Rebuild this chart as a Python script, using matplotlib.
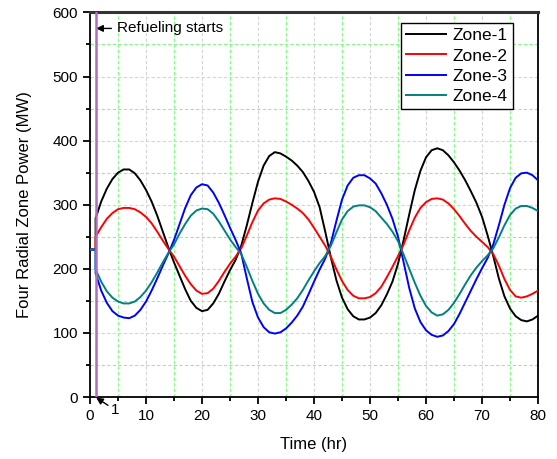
import numpy as np
import matplotlib
matplotlib.use('Agg')
import matplotlib.pyplot as plt
import matplotlib.ticker as ticker

# ─── DATA ────────────────────────────────────────────────────────────────────
# steady power before refueling (0-1 hr), then hourly values from t = 1 to 80 hr
steady_mw = 230
refuel_hr = 1

hours = list(range(1, 81))

zone1 = [279, 305, 325, 340, 350, 355, 355, 349, 338, 323,
         305, 283, 258, 233, 210, 189, 168, 150, 139, 134,
         136, 146, 161, 180, 198, 214, 236, 268, 303, 336,
         361, 376, 382, 380, 375, 369, 361, 351, 337, 320,
         296, 258, 218, 182, 155, 137, 126, 121, 121, 124,
         131, 143, 160, 180, 208, 245, 285, 323, 353, 374,
         385, 388, 385, 377, 366, 353, 338, 321, 303, 281,
         252, 220, 185, 157, 138, 126, 120, 118, 121, 127]

zone2 = [250, 265, 278, 287, 293, 295, 295, 293, 288, 281,
         271, 258, 244, 231, 219, 204, 189, 176, 166, 161,
         162, 169, 181, 195, 208, 219, 232, 252, 273, 291,
         302, 308, 310, 309, 305, 300, 294, 287, 277, 264,
         250, 236, 219, 199, 181, 167, 158, 154, 154, 156,
         162, 172, 187, 203, 220, 238, 260, 280, 295, 304,
         309, 310, 308, 302, 293, 282, 270, 259, 250, 242,
         234, 223, 205, 184, 167, 157, 155, 157, 161, 166]

zone3 = [193, 166, 147, 134, 127, 124, 123, 127, 136, 149,
         166, 185, 205, 224, 245, 270, 295, 315, 327, 332,
         330, 319, 303, 284, 264, 245, 224, 185, 148, 124,
         109, 101, 99, 101, 107, 116, 127, 141, 160, 180,
         199, 216, 240, 275, 308, 330, 342, 346, 346, 341,
         333, 318, 300, 278, 250, 210, 170, 138, 117, 104,
         97, 94, 96, 103, 114, 130, 148, 166, 184, 201,
         217, 238, 268, 300, 326, 342, 349, 350, 346, 338]

zone4 = [199, 180, 165, 155, 149, 146, 146, 149, 156, 166,
         179, 194, 210, 225, 238, 255, 270, 283, 291, 294,
         293, 286, 274, 260, 246, 234, 223, 203, 181, 161,
         146, 136, 131, 131, 136, 144, 154, 167, 182, 196,
         209, 220, 236, 257, 277, 290, 297, 299, 299, 296,
         290, 280, 270, 258, 243, 222, 200, 178, 158, 142,
         132, 127, 129, 136, 147, 161, 176, 190, 202, 212,
         221, 232, 249, 268, 284, 294, 298, 298, 295, 290]

zone_names = ['Zone-1', 'Zone-2', 'Zone-3', 'Zone-4']
zone_data = [zone1, zone2, zone3, zone4]
zone_colors = ['black', '#ff0000', '#0000ff', '#008080']

# ─── PLOT SETTINGS ───────────────────────────────────────────────────────────
plt.rcParams.update({
    'font.family': 'Liberation Sans',
    'font.size': 11,
    'axes.linewidth': 1.3,
})

fig, ax = plt.subplots(figsize=(5.57, 4.59), dpi=100)
fig.subplots_adjust(left=0.1616, right=0.966, bottom=0.135, top=0.973)

# grid: light grey on major ticks, light green on minor ticks
ax.set_axisbelow(True)
ax.grid(True, which='major', color='#d4d4d4', lw=0.8, ls=(0, (3, 2)))
ax.grid(True, which='minor', color='#7dff7d', lw=0.8, ls=(0, (3, 2)))

for name, vals, col in zip(zone_names, zone_data, zone_colors):
    t = [0, refuel_hr] + hours
    p = [steady_mw, steady_mw] + vals
    ax.plot(t, p, color=col, lw=1.4, label=name, zorder=3)

ax.axvline(refuel_hr, color='#b36cc4', lw=1.8, zorder=4)

ax.annotate('Refueling starts', xy=(refuel_hr + 0.1, 575), xytext=(4.8, 575),
            ha='left', va='center', fontsize=11,
            arrowprops=dict(arrowstyle='-|>', color='black', lw=1.0,
                            mutation_scale=10, shrinkA=2, shrinkB=0))
ax.annotate('1', xy=(refuel_hr + 0.1, -1), xytext=(3.7, -20),
            ha='left', va='center', fontsize=11, annotation_clip=False,
            arrowprops=dict(arrowstyle='-|>', color='black', lw=1.0,
                            mutation_scale=10, shrinkA=0, shrinkB=0))

# ─── AXES ────────────────────────────────────────────────────────────────────
ax.set_xlim(0, 80)
ax.set_ylim(0, 600)
ax.xaxis.set_major_locator(ticker.MultipleLocator(10))
ax.xaxis.set_minor_locator(ticker.MultipleLocator(5))
ax.yaxis.set_major_locator(ticker.MultipleLocator(100))
ax.yaxis.set_minor_locator(ticker.MultipleLocator(50))
ax.tick_params(which='major', direction='out', length=5, width=1.3, labelsize=11)
ax.tick_params(which='minor', direction='out', length=3, width=1.3)
ax.spines['top'].set_color('#333333')
ax.spines['top'].set_linewidth(2.2)

ax.set_xlabel('Time (hr)', fontsize=12, labelpad=10)
ax.set_ylabel('Four Radial Zone Power (MW)', fontsize=12, labelpad=15)

leg = ax.legend(loc='upper right', bbox_to_anchor=(0.944, 0.973), borderaxespad=0,
                fancybox=False, framealpha=1, edgecolor='black', fontsize=12.5,
                handlelength=2.3, handletextpad=0.4, labelspacing=0.3,
                borderpad=0.3)
leg.get_frame().set_linewidth(1.0)

fig.savefig('out.png', dpi=100)
